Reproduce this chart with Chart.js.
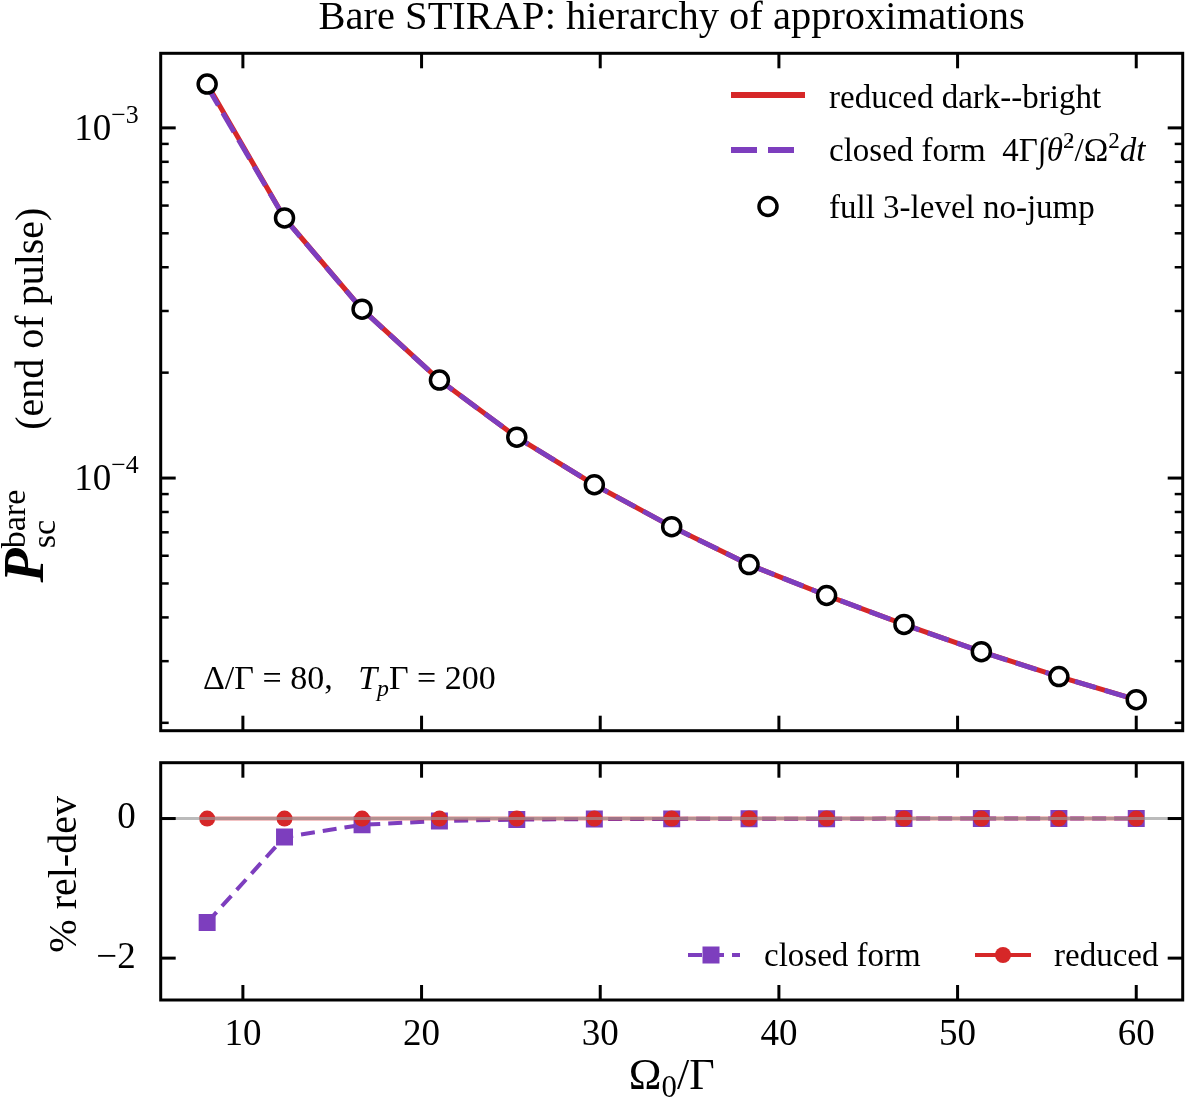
<!DOCTYPE html>
<html>
<head>
<meta charset="utf-8">
<script src="https://cdn.jsdelivr.net/npm/chart.js@4.4.1/dist/chart.umd.min.js"></script>
<style>
  html, body { margin: 0; padding: 0; background: #fff; overflow: hidden; }
  #wrap { position: relative; width: 1186px; height: 1102px; }
  canvas { position: absolute; left: 0; display: block; }
</style>
</head>
<body>
<div id="wrap">
  <canvas id="topChart" width="1186" height="746" style="top:0"></canvas>
  <canvas id="botChart" width="1186" height="356" style="top:746px"></canvas>
</div>
<script>
// data
const omega = [8, 12.33, 16.67, 21, 25.33, 29.67, 34, 38.33, 42.67, 47, 51.33, 55.67, 60]
const pReduced = [1.334e-3, 5.53e-4, 3.035e-4, 1.905e-4, 1.308e-4, 9.57e-5, 7.265e-5, 5.66e-5, 4.62e-5, 3.82e-5, 3.193e-5, 2.71e-5, 2.328e-5]
const pClosed = [1.314e-3, 5.52e-4, 3.032e-4, 1.904e-4, 1.308e-4, 9.57e-5, 7.265e-5, 5.66e-5, 4.62e-5, 3.82e-5, 3.193e-5, 2.71e-5, 2.328e-5]
const pFull = [1.334e-3, 5.53e-4, 3.035e-4, 1.905e-4, 1.308e-4, 9.57e-5, 7.265e-5, 5.66e-5, 4.62e-5, 3.82e-5, 3.193e-5, 2.71e-5, 2.328e-5]
const devClosed = [-1.49, -0.265, -0.09, -0.035, -0.015, -0.008, -0.005, -0.003, -0.002, -0.001, -0.001, -0.0006, -0.0005]
const devReduced = [0, 0, 0, 0, 0, 0, 0, 0, 0, 0, 0, 0, 0]

const xTicks = [10, 20, 30, 40, 50, 60]
const logTicks = [1e-4, 1e-3]
const devTicks = [-2, 0]

const RED = '#d62728'
const PURPLE = '#7d3ebe'
const SERIF = '"Liberation Serif", "DejaVu Serif", serif'

const LEFT = 160.7
const RIGHT_PAD = 3.3

function pts(ys) {
  return omega.map((x, i) => ({ x: x, y: ys[i] }))
}

// small helper for text with sub/superscripts
function layoutRich(ctx, parts, size) {
  let w = 0
  parts.forEach(p => {
    ctx.font = `${p.st || 'normal'} ${size * (p.sz || 1)}px ${SERIF}`
    p._w = p.stack
      ? Math.max(...p.stack.map(s => ctx.measureText(s).width))
      : ctx.measureText(p.t).width
    w += p._w
  })
  return w
}

function drawRich(ctx, parts, x, y, size, align) {
  const w = layoutRich(ctx, parts, size)
  let cx = align === 'center' ? x - w / 2 : align === 'right' ? x - w : x
  ctx.textAlign = 'left'
  ctx.textBaseline = 'alphabetic'
  ctx.fillStyle = '#000'
  parts.forEach(p => {
    ctx.font = `${p.st || 'normal'} ${size * (p.sz || 1)}px ${SERIF}`
    if (p.stack) {
      ctx.fillText(p.stack[0], cx, y - 0.45 * size)
      ctx.fillText(p.stack[1], cx, y + 0.3 * size)
    } else {
      ctx.fillText(p.t, cx, y + (p.dy || 0) * size)
    }
    cx += p._w
  })
}

function line(ctx, x1, y1, x2, y2) {
  ctx.beginPath()
  ctx.moveTo(x1, y1)
  ctx.lineTo(x2, y2)
  ctx.stroke()
}

function drawFrame(chart, minorY) {
  const { ctx, chartArea: a, scales } = chart
  ctx.save()
  ctx.strokeStyle = '#000'
  ctx.lineCap = 'butt'

  // x ticks, inward, top and bottom
  ctx.lineWidth = 3
  xTicks.forEach(v => {
    const px = scales.x.getPixelForValue(v)
    line(ctx, px, a.bottom, px, a.bottom - 15)
    line(ctx, px, a.top, px, a.top + 15)
  })
  // y major ticks, inward, left and right
  scales.y.ticks.forEach(t => {
    const py = scales.y.getPixelForValue(t.value)
    line(ctx, a.left, py, a.left + 15, py)
    line(ctx, a.right, py, a.right - 15, py)
  })
  // y minor ticks
  ctx.lineWidth = 2.5
  minorY.forEach(v => {
    const py = scales.y.getPixelForValue(v)
    if (py < a.top || py > a.bottom) return
    line(ctx, a.left, py, a.left + 8, py)
    line(ctx, a.right, py, a.right - 8, py)
  })

  ctx.lineWidth = 3
  ctx.strokeRect(a.left, a.top, a.right - a.left, a.bottom - a.top)
  ctx.restore()
}

const topDecor = {
  id: 'topDecor',
  afterDraw(chart) {
    const { ctx, chartArea: a, scales } = chart
    const minor = []
    for (let e = -5; e <= -3; e++) {
      for (let m = 2; m <= 9; m++) minor.push(m * Math.pow(10, e))
    }
    drawFrame(chart, minor)

    ctx.save()
    // log tick labels 10^-n
    logTicks.forEach(v => {
      const py = scales.y.getPixelForValue(v)
      const exp = Math.round(Math.log10(v))
      drawRich(ctx, [
        { t: '10' },
        { t: '\u2212' + Math.abs(exp), sz: 0.7, dy: -0.45 }
      ], a.left - 22, py + 12, 37, 'right')
    })

    // title
    drawRich(ctx, [{ t: 'Bare STIRAP: hierarchy of approximations' }],
      (a.left + a.right) / 2, 29, 40.5, 'center')

    // y label
    ctx.save()
    ctx.translate(29, (a.top + a.bottom) / 2 + 3)
    ctx.rotate(-Math.PI / 2)
    drawRich(ctx, [
      { t: 'P', st: 'italic bold', sz: 1.4 },
      { stack: ['bare', 'sc'], sz: 0.85 },
      { t: '      (end of pulse)' }
    ], 0, 14, 40, 'center')
    ctx.restore()

    // parameters note
    drawRich(ctx, [
      { t: '\u0394/\u0393 = 80,   ' },
      { t: 'T', st: 'italic' },
      { t: 'p', st: 'italic', sz: 0.7, dy: 0.2 },
      { t: '\u0393 = 200' }
    ], 203, 689, 34, 'left')

    // legend
    ctx.lineCap = 'butt'
    ctx.strokeStyle = RED
    ctx.lineWidth = 6
    line(ctx, 731, 95, 805, 95)
    ctx.strokeStyle = PURPLE
    ctx.setLineDash([26, 11])
    line(ctx, 731, 150, 805, 150)
    ctx.setLineDash([])
    ctx.beginPath()
    ctx.arc(768, 206.5, 9, 0, Math.PI * 2)
    ctx.fillStyle = '#fff'
    ctx.fill()
    ctx.strokeStyle = '#000'
    ctx.lineWidth = 3.5
    ctx.stroke()

    drawRich(ctx, [{ t: 'reduced dark--bright' }], 829, 108, 33, 'left')
    drawRich(ctx, [
      { t: 'closed form  4\u0393' },
      { t: '\u222B', st: 'italic' },
      { t: '\u03B8\u0307', st: 'italic' },
      { t: '2', sz: 0.7, dy: -0.4 },
      { t: '/\u03A9' },
      { t: '2', sz: 0.7, dy: -0.4 },
      { t: 'dt', st: 'italic' }
    ], 829, 161, 33, 'left')
    drawRich(ctx, [{ t: 'full 3-level no-jump' }], 829, 218, 33, 'left')
    ctx.restore()
  }
}

const botDecor = {
  id: 'botDecor',
  afterDatasetsDraw(chart) {
    const { ctx, chartArea: a, scales } = chart
    const py = scales.y.getPixelForValue(0)
    ctx.save()
    ctx.strokeStyle = 'rgba(150,150,150,0.65)'
    ctx.lineWidth = 3
    line(ctx, a.left, py, a.right, py)
    ctx.restore()
  },
  afterDraw(chart) {
    const { ctx, chartArea: a } = chart
    drawFrame(chart, [])

    ctx.save()
    // y label
    ctx.save()
    ctx.translate(63, (a.top + a.bottom) / 2 - 7)
    ctx.rotate(-Math.PI / 2)
    drawRich(ctx, [{ t: '% rel-dev' }], 0, 13, 40, 'center')
    ctx.restore()

    // x label
    drawRich(ctx, [
      { t: '\u03A9' },
      { t: '0', sz: 0.7, dy: 0.18 },
      { t: '/\u0393' }
    ], (a.left + a.right) / 2, 343, 44, 'center')

    // legend
    const ly = 209
    ctx.lineCap = 'butt'
    ctx.strokeStyle = PURPLE
    ctx.lineWidth = 4
    ctx.setLineDash([14, 8])
    line(ctx, 688, ly, 740, ly)
    ctx.setLineDash([])
    ctx.fillStyle = PURPLE
    ctx.fillRect(711 - 8.5, ly - 8.5, 17, 17)

    ctx.strokeStyle = RED
    line(ctx, 975, ly, 1031, ly)
    ctx.fillStyle = RED
    ctx.beginPath()
    ctx.arc(1003, ly, 8, 0, Math.PI * 2)
    ctx.fill()

    drawRich(ctx, [{ t: 'closed form' }], 764, ly + 11, 33, 'left')
    drawRich(ctx, [{ t: 'reduced' }], 1054, ly + 11, 33, 'left')
    ctx.restore()
  }
}

const noGrid = { display: false }
const noBorder = { display: false }

function fixY(s) {
  s.width = LEFT
  s.paddingTop = 0
  s.paddingBottom = 0
}

function fixX(h) {
  return s => {
    s.height = h
    s.paddingLeft = 0
    s.paddingRight = 0
  }
}

new Chart(document.getElementById('topChart').getContext('2d'), {
  type: 'line',
  data: {
    datasets: [
      {
        label: 'full 3-level no-jump',
        data: pts(pFull),
        showLine: false,
        pointStyle: 'circle',
        pointRadius: 9,
        pointBorderWidth: 3.5,
        pointBorderColor: '#000',
        pointBackgroundColor: '#fff',
        order: 0
      },
      {
        label: 'closed form',
        data: pts(pClosed),
        borderColor: PURPLE,
        borderWidth: 5,
        borderDash: [22, 9],
        pointRadius: 0,
        tension: 0,
        order: 1
      },
      {
        label: 'reduced dark--bright',
        data: pts(pReduced),
        borderColor: RED,
        borderWidth: 5,
        pointRadius: 0,
        tension: 0,
        order: 2
      }
    ]
  },
  options: {
    animation: false,
    responsive: false,
    devicePixelRatio: 1,
    layout: { autoPadding: false, padding: { top: 53.3, right: RIGHT_PAD, bottom: 15.3, left: 0 } },
    plugins: { legend: { display: false }, tooltip: { enabled: false } },
    scales: {
      x: {
        type: 'linear',
        min: 5.4,
        max: 62.6,
        grid: noGrid,
        border: noBorder,
        ticks: { display: false },
        afterBuildTicks: s => { s.ticks = xTicks.map(v => ({ value: v })) },
        afterFit: fixX(0)
      },
      y: {
        type: 'logarithmic',
        min: 1.899e-5,
        max: 1.633e-3,
        grid: noGrid,
        border: noBorder,
        ticks: { display: false },
        afterBuildTicks: s => { s.ticks = logTicks.map(v => ({ value: v })) },
        afterFit: fixY
      }
    }
  },
  plugins: [topDecor]
})

new Chart(document.getElementById('botChart').getContext('2d'), {
  type: 'line',
  data: {
    datasets: [
      {
        label: 'reduced',
        data: pts(devReduced),
        borderColor: 'rgba(214,39,40,0.55)',
        borderWidth: 4,
        pointStyle: 'circle',
        pointRadius: 8,
        pointBorderWidth: 0,
        pointBackgroundColor: RED,
        tension: 0,
        order: 0
      },
      {
        label: 'closed form',
        data: pts(devClosed),
        borderColor: PURPLE,
        borderWidth: 4,
        borderDash: [14, 8],
        pointStyle: 'rect',
        pointRadius: 12,
        pointBorderWidth: 0,
        pointBackgroundColor: PURPLE,
        tension: 0,
        order: 1
      }
    ]
  },
  options: {
    animation: false,
    responsive: false,
    devicePixelRatio: 1,
    layout: { autoPadding: false, padding: { top: 16.7, right: RIGHT_PAD, bottom: 0, left: 0 } },
    plugins: { legend: { display: false }, tooltip: { enabled: false } },
    scales: {
      x: {
        type: 'linear',
        min: 5.4,
        max: 62.6,
        grid: noGrid,
        border: noBorder,
        ticks: {
          color: '#000',
          padding: 5,
          maxRotation: 0,
          font: { family: SERIF, size: 37 }
        },
        afterBuildTicks: s => { s.ticks = xTicks.map(v => ({ value: v })) },
        afterFit: fixX(102)
      },
      y: {
        type: 'linear',
        min: -2.6,
        max: 0.8,
        grid: noGrid,
        border: noBorder,
        ticks: {
          color: '#000',
          padding: 17,
          font: { family: SERIF, size: 37 },
          callback: v => String(v).replace('-', '\u2212')
        },
        afterBuildTicks: s => { s.ticks = devTicks.map(v => ({ value: v })) },
        afterFit: fixY
      }
    }
  },
  plugins: [botDecor]
})
</script>
</body>
</html>
